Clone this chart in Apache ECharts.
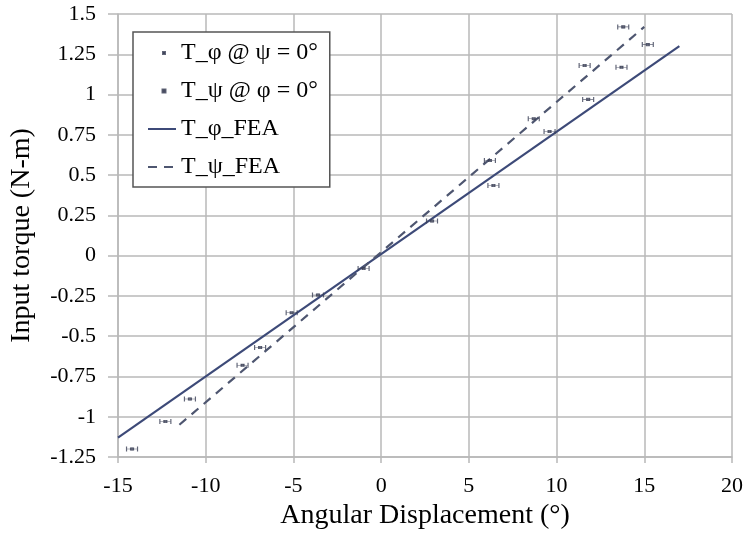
<!DOCTYPE html>
<html><head><meta charset="utf-8">
<script src="https://cdn.jsdelivr.net/npm/echarts@6/dist/echarts.min.js"></script>
<style>html,body{margin:0;padding:0;background:#fff}#c{width:746px;height:539px}</style>
</head><body><div id="c"></div>
<script>
// Measured points (x: angular displacement in deg, y: torque N-m)
const phiX = [-12.3, -10.9, -6.9, -5.1, -3.6, 2.9, 6.4, 9.6, 11.8, 13.7, 15.2];
const phiY = [-1.03, -0.89, -0.57, -0.355, -0.245, 0.215, 0.435, 0.77, 0.97, 1.17, 1.31];
const psiX = [-14.2, -7.9, -1.0, 6.2, 8.7, 11.6, 13.8];
const psiY = [-1.20, -0.68, -0.08, 0.59, 0.85, 1.18, 1.42];
// FEA lines
const phiFeaX = [-15, 17];
const phiFeaY = [-1.13, 1.30];
const psiFeaX = [-11.5, 15];
const psiFeaY = [-1.05, 1.42];
const xTicks = [-15, -10, -5, 0, 5, 10, 15, 20];
const yTicks = [-1.25, -1, -0.75, -0.5, -0.25, 0, 0.25, 0.5, 0.75, 1, 1.25, 1.5];

const zip = (a, b) => a.map((v, i) => [v, b[i]]);
const errPath = 'path://M0,0 L0,6 M0,3 L4,3 M4,1.5 L7,1.5 L7,4.5 L4,4.5 Z M7,3 L11,3 M11,0 L11,6';
const font = '"Liberation Serif", "Times New Roman", serif';
const gridGrey = '#b8b8b8';

const chart = echarts.init(document.getElementById('c'));
chart.setOption({
  animation: false,
  textStyle: { fontFamily: font },
  grid: { left: 115, right: 13, top: 14, bottom: 82 },
  xAxis: {
    type: 'value', min: -15, max: 20, interval: 5,
    name: 'Angular Displacement (°)', nameLocation: 'middle', nameGap: 35,
    nameTextStyle: { fontFamily: font, fontSize: 28, color: '#000' },
    axisLine: { show: true, onZero: false, lineStyle: { color: gridGrey, width: 1.5 } },
    axisTick: { show: true, length: 6, lineStyle: { color: gridGrey, width: 1.5 } },
    axisLabel: { fontFamily: font, fontSize: 22, color: '#000', margin: 18,
      formatter: v => xTicks.includes(v) ? String(v) : '' },
    splitLine: { show: true, lineStyle: { color: gridGrey, width: 1.5 } }
  },
  yAxis: {
    type: 'value', min: -1.25, max: 1.5, interval: 0.25,
    name: 'Input torque (N-m)', nameLocation: 'middle', nameGap: 82,
    nameTextStyle: { fontFamily: font, fontSize: 28, color: '#000' },
    axisLine: { show: true, onZero: false, lineStyle: { color: gridGrey, width: 1.5 } },
    axisTick: { show: true, length: 10, lineStyle: { color: gridGrey, width: 1.5 } },
    axisLabel: { fontFamily: font, fontSize: 22, color: '#000', margin: 22,
      formatter: v => yTicks.includes(v) ? String(v) : '' },
    splitLine: { show: true, lineStyle: { color: gridGrey, width: 1.5 } }
  },
  legend: {
    orient: 'vertical', left: 133, top: 32,
    padding: [8, 12, 7, 14],
    itemWidth: 28, itemHeight: 14, itemGap: 12,
    backgroundColor: '#fff', borderColor: '#555', borderWidth: 1.5,
    textStyle: { fontFamily: font, fontSize: 24, color: '#000', lineHeight: 26 },
    data: [
      { name: 'T_φ @ ψ = 0°', icon: 'path://M0,0 M28,14 M15,6 L17,6 L17,8 L15,8 Z' },
      { name: 'T_ψ @ φ = 0°', icon: 'path://M0,0 M28,14 M14.5,5.5 L17.5,5.5 L17.5,8.5 L14.5,8.5 Z' },
      { name: 'T_φ_FEA', itemStyle: { color: 'transparent', borderWidth: 0, opacity: 0 } },
      { name: 'T_ψ_FEA', itemStyle: { color: 'transparent', borderWidth: 0, opacity: 0 } }
    ]
  },
  series: [
    { name: 'T_φ_FEA', type: 'line', data: zip(phiFeaX, phiFeaY), showSymbol: false, symbol: 'none',
      lineStyle: { color: '#3d4a78', width: 2.2 }, itemStyle: { color: '#3d4a78' }, z: 2 },
    { name: 'T_ψ_FEA', type: 'line', data: zip(psiFeaX, psiFeaY), showSymbol: false, symbol: 'none',
      lineStyle: { color: '#4e5670', width: 2.2, type: [9, 7] }, itemStyle: { color: '#4e5670' }, z: 2 },
    { name: 'T_φ @ ψ = 0°', type: 'scatter', data: zip(phiX, phiY), symbol: errPath, symbolSize: [11, 5],
      itemStyle: { color: '#3a3f55', borderColor: '#3a3f55', borderWidth: 0.8 }, z: 3 },
    { name: 'T_ψ @ φ = 0°', type: 'scatter', data: zip(psiX, psiY), symbol: errPath, symbolSize: [11, 5],
      itemStyle: { color: '#3a3f55', borderColor: '#3a3f55', borderWidth: 0.8 }, z: 3 }
  ]
});
</script></body></html>
